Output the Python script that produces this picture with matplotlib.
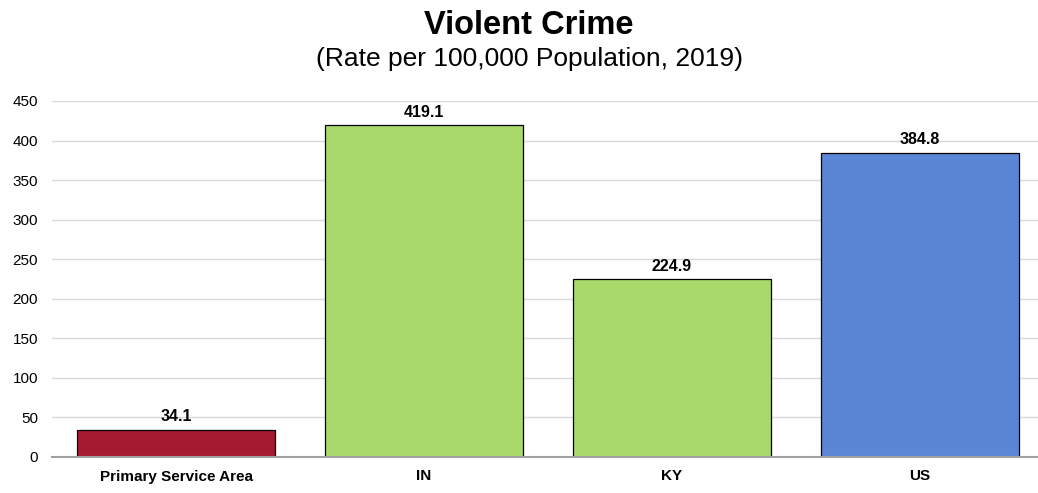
import matplotlib
matplotlib.use("Agg")
import matplotlib.pyplot as plt

categories = ["Primary Service Area", "IN", "KY", "US"]
values = [34.1, 419.1, 224.9, 384.8]
bar_colors = ["#A51A30", "#A8D96A", "#A8D96A", "#5B86D6"]
y_ticks = [0, 50, 100, 150, 200, 250, 300, 350, 400, 450]

plt.rcParams["font.family"] = ["Liberation Sans", "DejaVu Sans"]

fig = plt.figure(figsize=(10.38, 4.93), dpi=100)
ax = fig.add_axes([52 / 1038, 36 / 493, (1038 - 52) / 1038, 356 / 493])

x = range(len(categories))
ax.bar(x, values, width=0.8, color=bar_colors, edgecolor="black", linewidth=0.9, zorder=3)

for xi, v in zip(x, values):
    ax.text(xi, v + 7, f"{v:.1f}", ha="center", va="bottom",
            fontsize=11.5, fontweight="bold")

ax.set_ylim(0, 450)
ax.set_xlim(-0.5, 3.5 - 6 / 248)
ax.set_yticks(y_ticks)
ax.set_yticklabels([str(t) for t in y_ticks], fontsize=11)
ax.set_xticks(list(x))
ax.set_xticklabels(categories, fontsize=11, fontweight="bold")
ax.tick_params(axis="y", length=0, pad=10)
ax.tick_params(axis="x", length=0, pad=9)

ax.yaxis.grid(True, color="#D9D9D9", linewidth=1, zorder=0)
for s in ["top", "right", "left"]:
    ax.spines[s].set_visible(False)
ax.spines["bottom"].set_color("#A0A0A0")
ax.spines["bottom"].set_linewidth(1.5)
ax.spines["bottom"].set_zorder(4)

fig.text(529 / 1038, 1 - 25 / 493, "Violent Crime", ha="center", va="center",
         fontsize=23.5, fontweight="bold")
fig.text(529 / 1038, 1 - 59 / 493, "(Rate per 100,000 Population, 2019)", ha="center",
         va="center", fontsize=19)

fig.savefig("out.png", dpi=100)
